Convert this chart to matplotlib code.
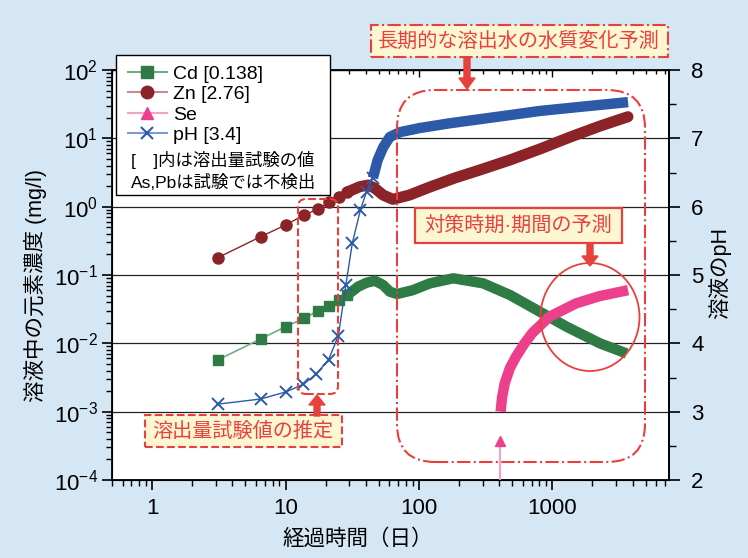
# -*- coding: utf-8 -*-

import matplotlib
matplotlib.use('Agg')
import matplotlib.pyplot as plt
import numpy as np
from matplotlib.patches import FancyBboxPatch, Ellipse, Rectangle, FancyArrow
from matplotlib.lines import Line2D
from matplotlib.ticker import LogLocator, MultipleLocator, FuncFormatter, NullFormatter

plt.rcParams['font.family'] = ['Liberation Sans', 'Noto Sans CJK JP']
plt.rcParams['mathtext.fontset'] = 'custom'
plt.rcParams['mathtext.rm'] = 'Liberation Sans'

# ---- data ----
# discrete sampling days (leaching column test)
test_days = [3.1, 6.5, 10, 13.8, 17.4, 21.2, 25.2, 29.1]
cd_test = [0.0057, 0.0116, 0.0175, 0.0232, 0.0297, 0.0355, 0.043, 0.051]
zn_test = [0.179, 0.363, 0.539, 0.755, 0.914, 1.16, 1.40, 1.64]

ph_days = [3.1, 6.5, 10.1, 13.6, 17.0, 21.0, 24.9, 28.3, 31.7, 36.4, 40.5, 45.2]
ph_test = [3.11, 3.185, 3.29, 3.40, 3.55, 3.76, 4.11, 4.85, 5.47, 5.95, 6.22, 6.42]

# long-term prediction (dense daily values, drawn as a band)
cd_pred_days = [29.1, 35, 40.5, 46.7, 53.9, 60.5, 68.6, 90, 121, 181, 303, 481, 807, 1280, 2275, 3610]
cd_pred = [0.051, 0.0675, 0.077, 0.0826, 0.0714, 0.057, 0.0527, 0.060, 0.0755, 0.0895, 0.0755,
           0.051, 0.029, 0.0175, 0.010, 0.0071]

zn_pred_days = [29.1, 36, 41.6, 46.7, 53.9, 63.7, 85, 121, 186, 286, 481, 807, 1355, 2275, 3690]
zn_pred = [1.64, 1.96, 2.07, 1.86, 1.48, 1.28, 1.48, 1.94, 2.63, 3.44, 4.82, 6.98, 10.4, 15.1, 20.7]

ph_pred_days = [45.2, 49, 54, 60.5, 72, 101, 170, 286, 481, 800, 1610, 3700]
ph_pred = [6.42, 6.68, 6.87, 7.02, 7.09, 7.15, 7.22, 7.28, 7.34, 7.40, 7.46, 7.53]

se_days = [405, 410, 420, 440, 480, 535, 620, 709, 951, 1510, 2255, 3700]
se_vals = [3.7e-4, 1.0e-3, 1.6e-3, 2.6e-3, 4.3e-3, 6.4e-3, 1.0e-2, 0.0142, 0.0245, 0.0385, 0.049, 0.06]

legend_labels = ['Cd [0.138]', 'Zn [2.76]', 'Se', 'pH [3.4]']
legend_notes = ['[\u3000]内は溶出量試験の値', 'As,Pbは試験では不検出']

# ---- colours ----
bg = '#d5e6f4'
cd_c, cd_l = '#2e7b45', '#6fae80'
zn_c, zn_l = '#8b2328', '#c98c8e'
se_c, se_l = '#ec3f8c', '#f4a2c6'
ph_c, ph_l = '#2c5aa8', '#7d9ad2'
red = '#e8413d'
cream = '#fdf6d3'

fig = plt.figure(figsize=(7.48, 5.58), dpi=100, facecolor=bg)
ax = fig.add_axes([112/748, 78/558, 557/748, 410/558])
ax.set_facecolor('white')
ax.set_xscale('log')
ax.set_yscale('log')
ax.set_xlim(0.5, 7500)
ax.set_ylim(1e-4, 1e2)

ax.yaxis.set_major_locator(LogLocator(base=10, numticks=10))
ax.yaxis.set_minor_locator(LogLocator(base=10, subs=np.arange(2, 10), numticks=20))
ax.yaxis.set_minor_formatter(NullFormatter())
ax.yaxis.set_major_formatter(FuncFormatter(
    lambda v, p: r'$\mathregular{10^{%d}}$' % int(round(np.log10(v))) if 1e-4 <= v <= 1e2 else ''))
ax.xaxis.set_major_locator(LogLocator(base=10, numticks=10))
ax.xaxis.set_minor_locator(LogLocator(base=10, subs=np.arange(2, 10), numticks=20))
ax.xaxis.set_minor_formatter(NullFormatter())
ax.xaxis.set_major_formatter(FuncFormatter(lambda v, p: '%d' % v if 1 <= v <= 7500 else ''))

ax.tick_params(axis='both', which='major', direction='out', length=7, width=1.2,
               labelsize=16, pad=3)
ax.tick_params(axis='both', which='minor', direction='out', length=4, width=1)
ax.tick_params(axis='x', pad=6)
ax.yaxis.grid(True, which='major', color='#222222', lw=0.9)
for s in ax.spines.values():
    s.set_linewidth(1.3)

top = ax.secondary_xaxis('top')
top.tick_params(axis='x', which='major', direction='in', length=5, width=1, labeltop=False)
top.tick_params(axis='x', which='minor', direction='in', length=3, width=1)
top.xaxis.set_major_formatter(NullFormatter())
top.xaxis.set_minor_formatter(NullFormatter())

ax2 = ax.twinx()
ax2.set_ylim(2, 8)
ax2.yaxis.set_major_locator(MultipleLocator(1))
ax2.yaxis.set_minor_locator(MultipleLocator(0.5))
ax2.tick_params(axis='y', which='major', direction='out', length=8, width=1.2,
                labelsize=16, pad=8)
ax2.tick_params(axis='y', which='minor', direction='out', length=5, width=1)
ax2.spines['right'].set_linewidth(1.3)

# ---- series ----
ax.plot(test_days, cd_test, color=cd_l, lw=1.2, marker='s', ms=7, mfc=cd_c, mec=cd_c, zorder=3)
ax.plot(cd_pred_days, cd_pred, color=cd_c, lw=7.5, solid_capstyle='butt', zorder=3)
ax.plot(test_days, zn_test, color=zn_c, lw=1.0, marker='o', ms=8, mfc=zn_c, mec=zn_c, zorder=3)
ax.plot(zn_pred_days, zn_pred, color=zn_c, lw=8, solid_capstyle='round', zorder=3)
ax.plot([se_days[0], se_days[0]], [1e-4, se_vals[0]], color=se_l, lw=1.5, zorder=3)
ax.plot(se_days[:1], se_vals[:1], ls='none', marker='^', ms=7, color=se_c, zorder=4)
ax.plot(se_days[1:], se_vals[1:], color=se_c, lw=7.5, solid_capstyle='butt', zorder=4)

ax2.plot(ph_days, ph_test, color=ph_c, lw=1.0, marker='x', ms=8, mew=1.4, zorder=3)
ax2.plot(ph_pred_days, ph_pred, color=ph_c, lw=7.5, solid_capstyle='butt', zorder=3)

# ---- labels ----
fig.text(35/748, 1 - 285/558, '溶液中の元素濃度 (mg/l)', rotation=90, fontsize=15.5,
         ha='center', va='center')
fig.text(720/748, 1 - 273/558, '溶液のpH', rotation=90, fontsize=15.5,
         ha='center', va='center')
fig.text(358/748, 1 - 539/558, '経過時間（日）', fontsize=15.5, ha='center', va='center')

# ---- legend box ----
T = fig.dpi_scale_trans
H = 5.58


def px(x, y):
    return x / 100, H - y / 100


x0, y0 = px(116, 195)
fig.add_artist(Rectangle((x0, y0), 2.14, 1.40, transform=T, fc='white', ec='black', lw=1.0, zorder=5))
handles = [
    Line2D([], [], color=cd_l, lw=1.5, marker='s', ms=8, mfc=cd_c, mec=cd_c),
    Line2D([], [], color=zn_l, lw=1.5, marker='o', ms=9, mfc=zn_c, mec=zn_c),
    Line2D([], [], color=se_l, lw=1.5, marker='^', ms=9, mfc=se_c, mec=se_c),
    Line2D([], [], color=ph_l, lw=1.5, marker='x', ms=9, mew=1.5, mec=ph_c),
]
fig.legend(handles, legend_labels, loc='upper left', bbox_to_anchor=px(128, 65),
           bbox_transform=T, frameon=False, fontsize=14, handlelength=2.0,
           handletextpad=0.3, labelspacing=0.15, borderpad=0, borderaxespad=0).set_zorder(6)
for i, note in enumerate(legend_notes):
    fig.text(*px(131, 160 + 22 * i), note, transform=T, fontsize=12.5, va='center', zorder=6)

# ---- annotations ----
# long-term prediction frame
fig.add_artist(FancyBboxPatch(px(397, 462), 2.48, 3.72, boxstyle='round,pad=0,rounding_size=0.38',
                              transform=T, fc='none', ec=red, lw=1.5, ls='-.', zorder=4))
x0, y0 = px(371, 57)
fig.add_artist(Rectangle((x0, y0), 2.97, 0.32, transform=T, fc=cream, ec=red, lw=1.5, ls='-.', zorder=5))
fig.text(*px(519, 41), '長期的な溶出水の水質変化予測', transform=T, fontsize=14.5, color=red,
         ha='center', va='center', zorder=6)
fig.add_artist(FancyArrow(*px(467, 58), 0, -0.31, width=0.06, head_width=0.16, head_length=0.11,
                          length_includes_head=True, transform=T, color=red, zorder=6))

# countermeasure timing
x0, y0 = px(415, 243)
fig.add_artist(Rectangle((x0, y0), 2.07, 0.35, transform=T, fc=cream, ec=red, lw=1.6, zorder=5))
fig.text(*px(518, 225), '対策時期·期間の予測', transform=T, fontsize=14.5, color=red,
         ha='center', va='center', zorder=6)
fig.add_artist(FancyArrow(*px(590, 243), 0, -0.23, width=0.06, head_width=0.16, head_length=0.1,
                          length_includes_head=True, transform=T, color=red, zorder=6))
fig.add_artist(Ellipse(px(590, 317), 0.99, 1.08, transform=T, fc='none', ec=red, lw=1.3, zorder=5))

# leaching test estimate
fig.add_artist(FancyBboxPatch(px(298, 394), 0.40, 1.95, boxstyle='round,pad=0,rounding_size=0.08',
                              transform=T, fc='none', ec=red, lw=1.5, ls='--', zorder=4))
x0, y0 = px(145, 447)
fig.add_artist(Rectangle((x0, y0), 1.97, 0.32, transform=T, fc=cream, ec=red, lw=1.5, ls='--', zorder=5))
fig.text(*px(243, 431), '溶出量試験値の推定', transform=T, fontsize=14.5, color=red,
         ha='center', va='center', zorder=6)
fig.add_artist(FancyArrow(*px(317, 416), 0, 0.21, width=0.06, head_width=0.16, head_length=0.1,
                          length_includes_head=True, transform=T, color=red, zorder=6))

fig.savefig('out.png', dpi=100, facecolor=bg)
